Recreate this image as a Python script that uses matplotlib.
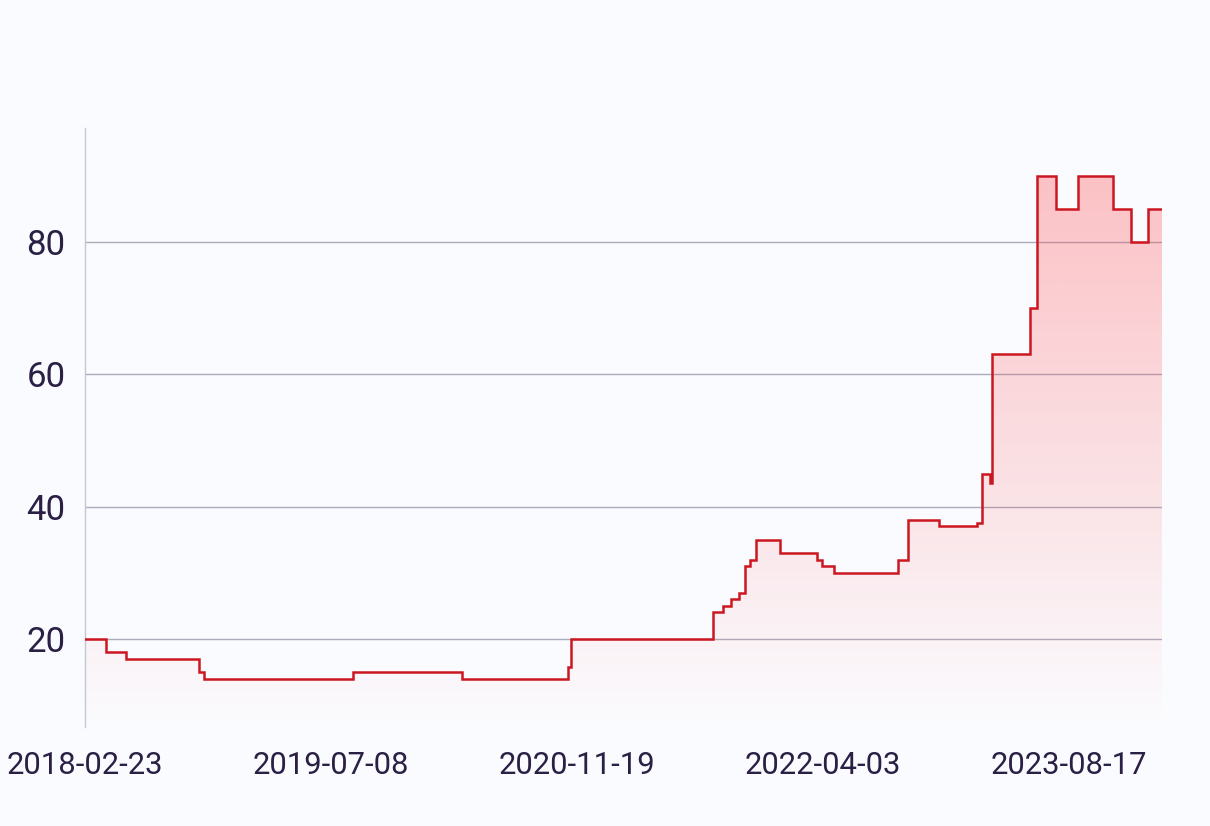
import matplotlib
matplotlib.use("Agg")
import matplotlib.pyplot as plt
import matplotlib.dates as mdates
import numpy as np
import pandas as pd
from matplotlib.colors import LinearSegmentedColormap
from matplotlib.patches import Polygon

dates = ["2018-02-23", "2018-04-07", "2018-05-17", "2018-10-12", "2018-10-23",
         "2019-08-22", "2020-03-30", "2020-11-01", "2020-11-08", "2021-08-23",
         "2021-09-12", "2021-09-29", "2021-10-15", "2021-10-28", "2021-11-06",
         "2021-11-18", "2022-01-06", "2022-03-23", "2022-04-02", "2022-04-27",
         "2022-09-03", "2022-09-23", "2022-11-25", "2023-02-11", "2023-02-20",
         "2023-02-22", "2023-03-10", "2023-03-13", "2023-05-29", "2023-06-13",
         "2023-07-21", "2023-09-05", "2023-11-14", "2023-12-21", "2024-01-24",
         "2024-02-22"]
values = [20, 18, 17, 15, 14,
          15, 14, 15.8, 20, 24,
          25, 26, 27, 31, 32,
          35, 33, 32, 31, 30,
          32, 38, 37, 37.5, 38,
          45, 43.6, 63, 70, 90,
          85, 90, 85, 80, 85,
          85]
tick_dates = ["2018-02-23", "2019-07-08", "2020-11-19", "2022-04-03", "2023-08-17"]
y_ticks = [20, 40, 60, 80]

x = mdates.date2num(pd.to_datetime(dates))
y = np.array(values, dtype=float)
ymin, ymax = 6.7, 97.2

bg = "#fafbfe"
fig = plt.figure(figsize=(12.10, 8.26), dpi=100, facecolor=bg)
ax = fig.add_axes([85/1210, 99/826, (1162-85)/1210, (727-128)/826])
ax.set_facecolor(bg)

# step coordinates
xs = np.repeat(x, 2)[1:]
ys = np.repeat(y, 2)[:-1]

# gradient fill clipped under the step line
cmap = LinearSegmentedColormap.from_list(
    "g", [(1.0, 0.28, 0.30, 0.0), (1.0, 0.28, 0.30, 0.33)])
grad = np.linspace(0, 1, 256).reshape(-1, 1)
im = ax.imshow(grad, extent=[x[0], x[-1], ymin, 92], origin="lower",
               aspect="auto", cmap=cmap, zorder=1, interpolation="bicubic")
poly_xy = np.column_stack([np.concatenate([[xs[0]], xs, [xs[-1]]]),
                           np.concatenate([[ymin], ys, [ymin]])])
clip = Polygon(poly_xy, closed=True, facecolor="none", edgecolor="none")
ax.add_patch(clip)
im.set_clip_path(clip)

ax.plot(xs, ys, color="#cc1620", lw=1.8, zorder=3, solid_joinstyle="miter")

ax.set_xlim(x[0], mdates.date2num(pd.Timestamp("2024-02-22")))
ax.set_ylim(ymin, ymax)
ax.set_yticks(y_ticks)
ax.set_xticks(mdates.date2num(pd.to_datetime(tick_dates)))
ax.set_xticklabels(tick_dates)
ax.yaxis.grid(True, color="#a9aebf", lw=1.0, zorder=0)
ax.set_axisbelow(True)
for s in ["top", "right", "bottom"]:
    ax.spines[s].set_visible(False)
ax.spines["left"].set_color("#c3c6d4")
ax.spines["left"].set_linewidth(1.0)
ax.tick_params(axis="both", length=0, colors="#2a1f45")
ax.tick_params(axis="y", pad=14, labelsize=25)
ax.tick_params(axis="x", pad=17, labelsize=22.3)
for lab in ax.get_xticklabels() + ax.get_yticklabels():
    lab.set_fontfamily("Roboto")
    lab.set_color("#2a1f45")

fig.savefig("out.png", dpi=100, facecolor=bg)
